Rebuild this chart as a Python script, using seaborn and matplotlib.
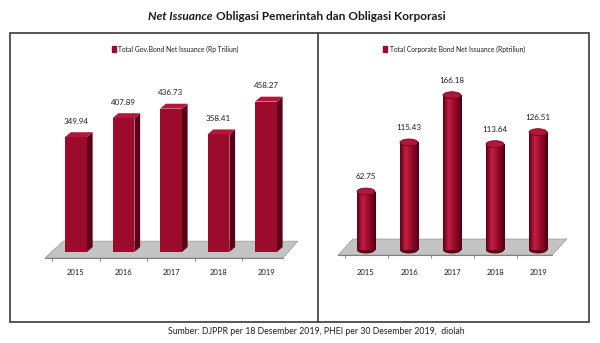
import numpy as np
import matplotlib
matplotlib.use("Agg")
import matplotlib.pyplot as plt
import seaborn as sns
import pandas as pd
from matplotlib.patches import Polygon, Ellipse, Rectangle, Patch
from matplotlib.colors import LinearSegmentedColormap
from matplotlib.lines import Line2D

# ---- data ----
years = ["2015", "2016", "2017", "2018", "2019"]
gov_values = [349.94, 407.89, 436.73, 358.41, 458.27]
corp_values = [62.75, 115.43, 166.18, 113.64, 126.51]
gov_label = "Total Gov.Bond Net Issuance (Rp Triliun)"
corp_label = "Total Corporate Bond Net Issuance (Rptriliun)"
title_italic = "Net Issuance"
title_rest = "Obligasi Pemerintah dan Obligasi Korporasi"
source_text = "Sumber: DJPPR per 18 Desember 2019, PHEI per 30 Desember 2019,  diolah"

# ---- style ----
sns.set_style("white")
plt.rcParams["font.family"] = ["Lato", "DejaVu Sans"]

FRONT = "#9c0b2b"
SIDE = "#5c0016"
TOP = "#b3183c"
FLOOR = "#c3c3c3"
FLOOR_EDGE = "#9a9a9a"
TEXT = "#1e1e1e"

W, H = 600, 343
fig = plt.figure(figsize=(W / 100, H / 100), dpi=100)
fig.patch.set_facecolor("white")


def px_axes(x0, y0, x1, y1):
    """Add axes given pixel box measured from the top-left corner."""
    return fig.add_axes([x0 / W, 1 - y1 / H, (x1 - x0) / W, (y1 - y0) / H])


def style_axes(ax):
    for s in ax.spines.values():
        s.set_visible(False)
    ax.set_xlabel("")
    ax.set_ylabel("")
    ax.set_yticks([])
    ax.tick_params(axis="x", length=0, pad=5, labelsize=5.5, labelcolor=TEXT)
    ax.set_facecolor("none")


def draw_floor(ax, pts, tick_y, tick_len):
    ax.add_patch(Polygon(pts, closed=True, fc=FLOOR, ec=FLOOR_EDGE, lw=0.5, zorder=0.5))
    (x0, y0), (x3, y3) = pts[0], pts[3]
    ax.add_line(Line2D([x0, x3], [y0, y3], color="#808080", lw=0.8, zorder=0.6))
    for b in [-0.5, 0.5, 1.5, 2.5, 3.5]:
        ax.add_line(Line2D([b, b], [tick_y, tick_y - tick_len], color="#808080", lw=0.6, zorder=0.6))


# ---------------- left panel: 3D boxes ----------------
axL = px_axes(40.4, 60, 301.6, 262)
dfL = pd.DataFrame({"year": years, "value": gov_values})
sns.barplot(data=dfL, x="year", y="value", ax=axL, color=FRONT, width=0.46,
            saturation=1, edgecolor="none", zorder=2)
axL.set_xlim(-0.75, 4.75)
axL.set_ylim(-30.5, 585)
style_axes(axL)

dx, dy = 0.12, 15
for p in list(axL.patches):
    x0, w, h = p.get_x(), p.get_width(), p.get_height()
    axL.add_patch(Polygon([(x0 + w, 0), (x0 + w + dx, dy), (x0 + w + dx, h + dy), (x0 + w, h)],
                          closed=True, fc=SIDE, ec="none", zorder=2))
    axL.add_patch(Polygon([(x0, h), (x0 + dx, h + dy), (x0 + w + dx, h + dy), (x0 + w, h)],
                          closed=True, fc=TOP, ec="none", zorder=2))
draw_floor(axL, [(-0.65, -18), (-0.27, 33), (4.67, 33), (4.36, -18)], -18, 8)
axL.bar_label(axL.containers[0], labels=[f"{v:.2f}" for v in gov_values],
              padding=9, fontsize=5.8, color=TEXT)
axL.legend(handles=[Patch(color=FRONT)], labels=[gov_label], loc="center",
           bbox_to_anchor=(175 / W, 1 - 49 / H), bbox_transform=fig.transFigure,
           frameon=False, fontsize=4.9, handlelength=0.6, handleheight=1.0,
           handletextpad=0.3, labelcolor=TEXT)

# ---------------- right panel: cylinders ----------------
axR = px_axes(332.9, 60, 572, 262)
dfR = pd.DataFrame({"year": years, "value": corp_values})
sns.barplot(data=dfR, x="year", y="value", ax=axR, color=FRONT, width=0.42,
            saturation=1, edgecolor="none", zorder=2)
axR.set_xlim(-0.77, 4.79)
axR.set_ylim(-12.9, 204)
style_axes(axR)

cyl_cmap = LinearSegmentedColormap.from_list(
    "cyl", [(0, "#5e0016"), (0.3, "#c41f45"), (0.55, "#a30d2f"), (1, "#4f0012")])
grad = np.linspace(0, 1, 64)[None, :]
ell_h = 7.5
draw_floor(axR, [(-0.65, -5.4), (-0.30, 11.8), (4.67, 11.8), (4.33, -5.4)], -5.4, 2.8)
for p in list(axR.patches):
    if not isinstance(p, Rectangle) or p.get_height() <= 20:
        continue
    x0, w, h = p.get_x(), p.get_width(), p.get_height()
    p.set_alpha(0)
    axR.add_patch(Ellipse((x0 + w / 2, 0), w, ell_h, fc="#5e0016", ec="none", zorder=2))
    im = axR.imshow(grad, cmap=cyl_cmap, extent=[x0, x0 + w, 0, h], aspect="auto",
                    zorder=2.1, interpolation="bilinear")
    clip = Rectangle((x0, 0), w, h, transform=axR.transData)
    im.set_clip_path(clip)
    axR.add_patch(Ellipse((x0 + w / 2, h), w, ell_h, fc="#b0163a", ec="#6a0019",
                          lw=0.5, zorder=2.2))
axR.set_xlim(-0.77, 4.79)
axR.set_ylim(-12.9, 204)
axR.bar_label(axR.containers[0], labels=[f"{v:.2f}" for v in corp_values],
              padding=8, fontsize=5.8, color=TEXT)
axR.legend(handles=[Patch(color=FRONT)], labels=[corp_label], loc="center",
           bbox_to_anchor=(454 / W, 1 - 49 / H), bbox_transform=fig.transFigure,
           frameon=False, fontsize=4.9, handlelength=0.6, handleheight=1.0,
           handletextpad=0.3, labelcolor=TEXT)

# ---------------- frame, title, source ----------------
fig.add_artist(Rectangle((10 / W, 1 - 322 / H), 579 / W, 289 / H, transform=fig.transFigure,
                         fill=False, ec="#3a3a3a", lw=1.2))
fig.add_artist(Line2D([318 / W, 318 / W], [1 - 322 / H, 1 - 33 / H],
                      transform=fig.transFigure, color="#3a3a3a", lw=1.2))

t1 = fig.text(148 / W, 1 - 16 / H, title_italic, fontsize=8.6, fontweight="bold",
              fontstyle="italic", color="#1a1a1a", va="center", ha="left")
fig.canvas.draw()
bb = t1.get_window_extent()
fig.text(bb.x1 / W + 3 / W, 1 - 16 / H, title_rest, fontsize=8.6, fontweight="bold",
         color="#1a1a1a", va="center", ha="left")
fig.text(316 / W, 1 - 331 / H, source_text, fontsize=6.3, color=TEXT,
         va="center", ha="center")

fig.savefig("out.png", dpi=100, facecolor="white")
